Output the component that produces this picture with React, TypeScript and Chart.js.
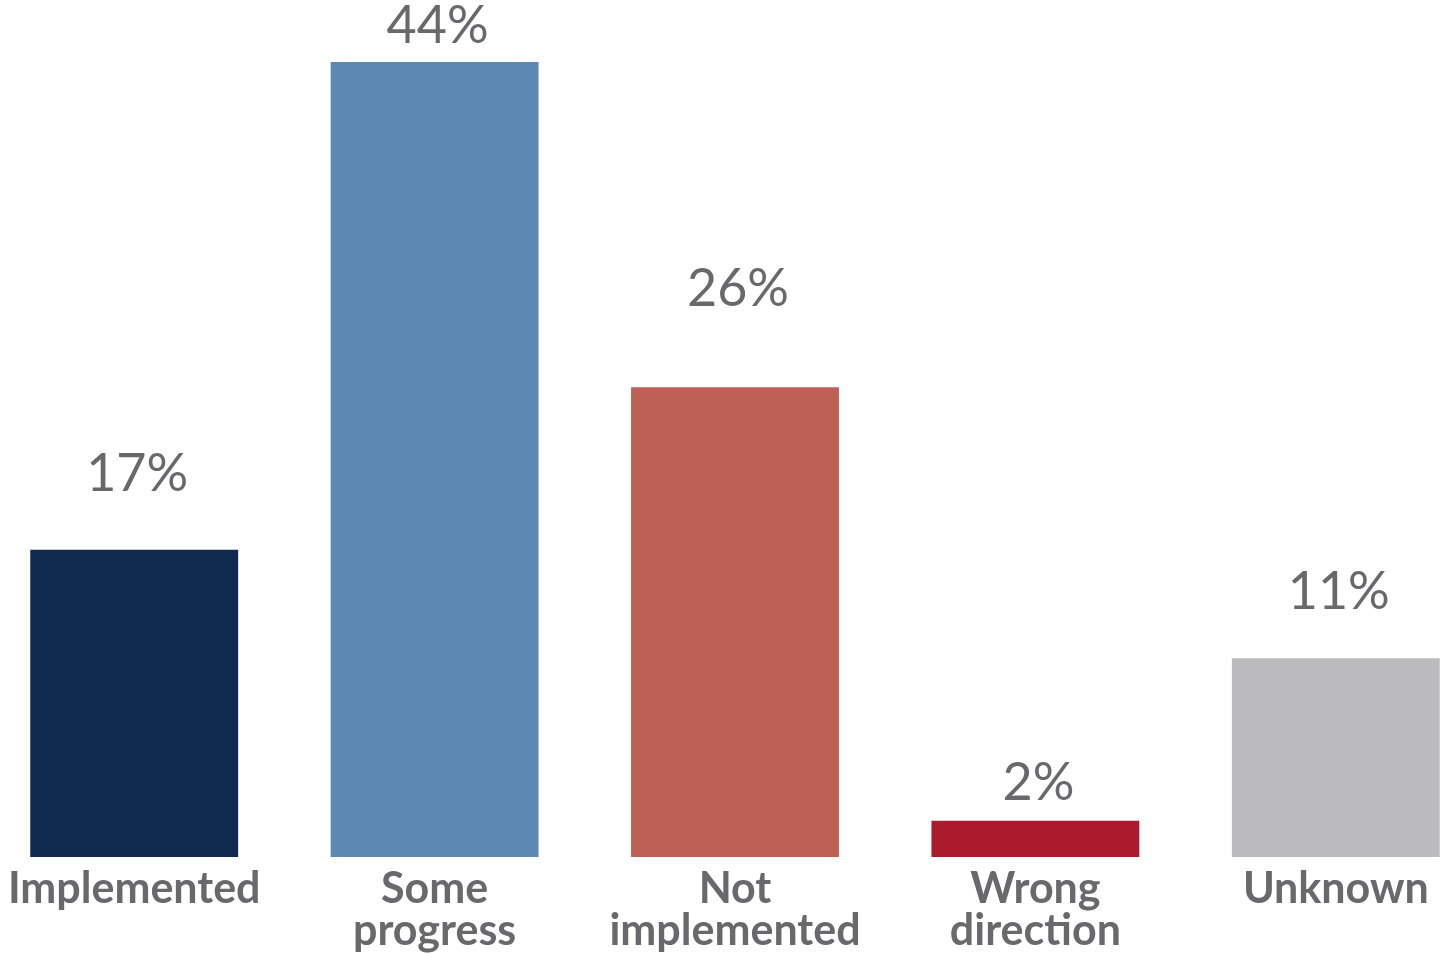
import React, { useEffect, useRef } from "react";
import { Chart, registerables } from "chart.js";

Chart.register(...registerables);

const categories: string[][] = [
  ["Implemented"],
  ["Some", "progress"],
  ["Not", "implemented"],
  ["Wrong", "direction"],
  ["Unknown"],
];
const values: number[] = [17, 44, 26, 2, 11];
const valueLabels: string[] = ["17%", "44%", "26%", "2%", "11%"];
const barColors: string[] = ["#0f2a4e", "#5b89b4", "#bf6057", "#aa1c2d", "#bbbbbe"];
// pixel lift of each value label's baseline above its bar top
const labelLift: number[] = [59, 19, 81, 21, 49];

const TEXT = "#69696c";

const valueLabelPlugin = {
  id: "valueLabels",
  afterDatasetsDraw(chart: any) {
    const ctx = chart.ctx;
    const meta = chart.getDatasetMeta(0);
    ctx.save();
    ctx.fillStyle = TEXT;
    ctx.font = '400 52px Lato, "Noto Sans", sans-serif';
    ctx.textAlign = "center";
    ctx.textBaseline = "alphabetic";
    meta.data.forEach((bar: any, i: number) => {
      ctx.fillText(valueLabels[i], bar.x + 3, bar.y - labelLift[i]);
    });
    ctx.restore();
  },
};

export default function App() {
  const ref = useRef<HTMLCanvasElement | null>(null);
  useEffect(() => {
    if (!ref.current) return;
    const chart = new Chart(ref.current, {
      type: "bar",
      data: {
        labels: categories,
        datasets: [
          {
            data: values,
            backgroundColor: barColors,
            borderWidth: 0,
            categoryPercentage: 1,
            barPercentage: 0.692,
          },
        ],
      },
      options: {
        animation: false,
        responsive: true,
        maintainAspectRatio: false,
        layout: { padding: 0 },
        plugins: {
          legend: { display: false },
          tooltip: { enabled: false },
        },
        scales: {
          y: {
            display: false,
            min: 0,
            max: 47.43,
          },
          x: {
            grid: { display: false, drawTicks: false },
            border: { display: false },
            afterFit: (scale: any) => {
              scale.height = 97;
            },
            ticks: {
              color: TEXT,
              padding: 11,
              font: { family: 'Lato, "Noto Sans", sans-serif', size: 43, weight: "bold", lineHeight: 0.98 },
              maxRotation: 0,
              autoSkip: false,
            },
          },
        },
      },
      plugins: [valueLabelPlugin],
    });
    return () => chart.destroy();
  }, []);

  return (
    <div style={{ position: "fixed", left: 0, top: 0, width: 1440, height: 954, overflow: "hidden", background: "#fff" }}>
      <div style={{ position: "absolute", left: -16, top: 0, width: 1502, height: 954 }}>
        <canvas ref={ref} />
      </div>
    </div>
  );
}
